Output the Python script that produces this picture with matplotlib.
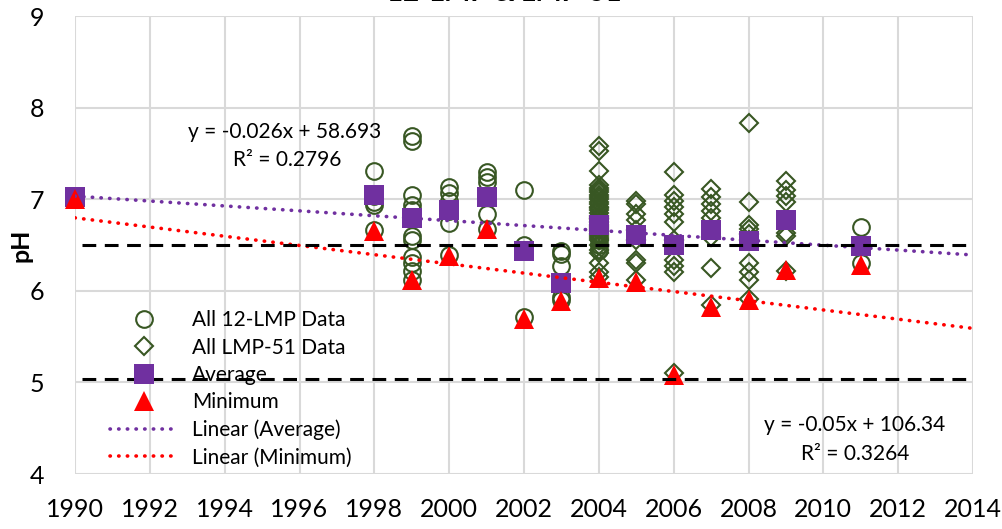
import numpy as np
import matplotlib
matplotlib.use("Agg")
import matplotlib.pyplot as plt

plt.rcParams['font.family'] = ['Lato', 'DejaVu Sans']

# ---- data ----
lmp12_years = [1998]*5 + [1999]*11 + [2000]*6 + [2001]*6 + [2002]*3 + [2003]*5 + [2004]*3 + [2011]*2
lmp12_ph = [7.31, 7.03, 6.97, 6.94, 6.66,
            7.69, 7.64, 7.05, 6.94, 6.88, 6.60, 6.55, 6.37, 6.30, 6.22, 6.12,
            7.13, 7.07, 6.98, 6.87, 6.74, 6.39,
            7.30, 7.24, 7.19, 7.02, 6.84, 6.68,
            7.10, 6.50, 5.71,
            6.43, 6.40, 6.27, 5.93, 5.90,
            6.55, 6.50, 6.45,
            6.70, 6.30]

lmp51_2004 = [7.58, 7.53, 7.31, 7.15, 7.12, 7.10, 7.08, 7.05, 7.02, 7.00, 6.97, 6.95,
              6.92, 6.90, 6.88, 6.85, 6.82, 6.80, 6.78, 6.75, 6.72, 6.70, 6.68, 6.65,
              6.62, 6.60, 6.58, 6.55, 6.50, 6.45, 6.41, 6.30, 6.21, 6.15]
lmp51_2005 = [6.98, 6.95, 6.84, 6.77, 6.66, 6.55, 6.34, 6.30, 6.12]
lmp51_2006 = [7.30, 7.05, 6.98, 6.91, 6.84, 6.75, 6.55, 6.34, 6.27, 6.21, 5.10]
lmp51_2007 = [7.11, 7.02, 6.95, 6.87, 6.80, 6.59, 6.25, 5.85]
lmp51_2008 = [7.83, 6.97, 6.72, 6.68, 6.62, 6.55, 6.30, 6.21, 6.12, 5.91]
lmp51_2009 = [7.20, 7.10, 7.04, 6.97, 6.63, 6.60, 6.22]
lmp51_years = ([2004]*len(lmp51_2004) + [2005]*len(lmp51_2005) + [2006]*len(lmp51_2006)
               + [2007]*len(lmp51_2007) + [2008]*len(lmp51_2008) + [2009]*len(lmp51_2009))
lmp51_ph = lmp51_2004 + lmp51_2005 + lmp51_2006 + lmp51_2007 + lmp51_2008 + lmp51_2009

summary_years = [1990, 1998, 1999, 2000, 2001, 2002, 2003, 2004, 2005, 2006, 2007, 2008, 2009, 2011]
average_ph = [7.02, 7.05, 6.79, 6.88, 7.02, 6.43, 6.09, 6.72, 6.61, 6.50, 6.66, 6.54, 6.77, 6.49]
minimum_ph = [7.00, 6.65, 6.12, 6.38, 6.67, 5.69, 5.89, 6.14, 6.10, 5.08, 5.82, 5.90, 6.23, 6.28]

thresholds = [6.5, 5.04]
x_ticks = list(range(1990, 2015, 2))
y_ticks = [4, 5, 6, 7, 8, 9]

title = "12-LMP & LMP-51"
eq_avg = ["y = -0.026x + 58.693", "R² = 0.2796"]
eq_min = ["y = -0.05x + 106.34", "R² = 0.3264"]

# ---- styling ----
GREEN = "#385723"
PURPLE = "#7030A0"
RED = "#FF0000"
GRID = "#D9D9D9"

fig = plt.figure(figsize=(10.03, 5.29), dpi=100)
ax = fig.add_axes([75/1003, 1-474/529, 898/1003, 458/529])

ax.plot(lmp12_years, lmp12_ph, linestyle='none', marker='o', markersize=12,
        markerfacecolor='none', markeredgecolor=GREEN, markeredgewidth=1.5,
        label='All 12-LMP Data', zorder=3, clip_on=False)
ax.plot(lmp51_years, lmp51_ph, linestyle='none', marker='D', markersize=8.8,
        markerfacecolor='none', markeredgecolor=GREEN, markeredgewidth=1.5,
        label='All LMP-51 Data', zorder=3, clip_on=False)
ax.plot(summary_years, average_ph, linestyle='none', marker='s', markersize=14.5,
        color=PURPLE, markeredgewidth=0, label='Average', zorder=4, clip_on=False)
ax.plot(summary_years, minimum_ph, linestyle='none', marker='^', markersize=15,
        color=RED, markeredgewidth=0, label='Minimum', zorder=5, clip_on=False)

xs = np.array([1990, 2014])
pa = np.polyfit(summary_years, average_ph, 1)
pm = np.polyfit(summary_years, minimum_ph, 1)
ax.plot(xs, np.polyval(pa, xs), color=PURPLE, lw=2.6, linestyle=(0, (0.1, 2.3)),
        dash_capstyle='round', label='Linear (Average)', zorder=6)
ax.plot(xs, np.polyval(pm, xs), color=RED, lw=2.6, linestyle=(0, (0.1, 2.3)),
        dash_capstyle='round', label='Linear (Minimum)', zorder=6)

for t in thresholds:
    ax.hlines(t, 1990.2, 2013.85, colors='black', linewidth=2.2,
              linestyles=(0, (4.5, 2.8)), zorder=7)

ax.set_xlim(1990, 2014)
ax.set_ylim(4, 9)
ax.set_xticks(x_ticks)
ax.set_yticks(y_ticks)
ax.grid(True, color=GRID, linewidth=1.5, zorder=0)
ax.set_axisbelow(True)
for s in ax.spines.values():
    s.set_visible(False)
ax.tick_params(length=0, labelsize=18, colors='black')
ax.tick_params(axis='x', pad=17)
ax.tick_params(axis='y', pad=22)
ax.set_ylabel('pH', fontsize=18, fontweight='bold', labelpad=-2)

fig.text(285/1003, 1-132/529, eq_avg[0], ha='center', va='center', fontsize=15)
fig.text(287/1003, 1-160/529, eq_avg[1], ha='center', va='center', fontsize=15)
fig.text(855/1003, 1-425/529, eq_min[0], ha='center', va='center', fontsize=15)
fig.text(855/1003, 1-454/529, eq_min[1], ha='center', va='center', fontsize=15)

fig.text(504/1003, 1.0 + 7/529, title, ha='center', va='center', fontsize=20, fontweight='bold')

leg = ax.legend(loc='upper left', bbox_to_anchor=(100/1003, 1-300/529),
                bbox_transform=fig.transFigure, frameon=False, fontsize=15,
                handlelength=3.2, handletextpad=0.7, labelspacing=0.35,
                borderpad=0, numpoints=1)
leg.set_zorder(8)

fig.savefig("out.png", dpi=100)
